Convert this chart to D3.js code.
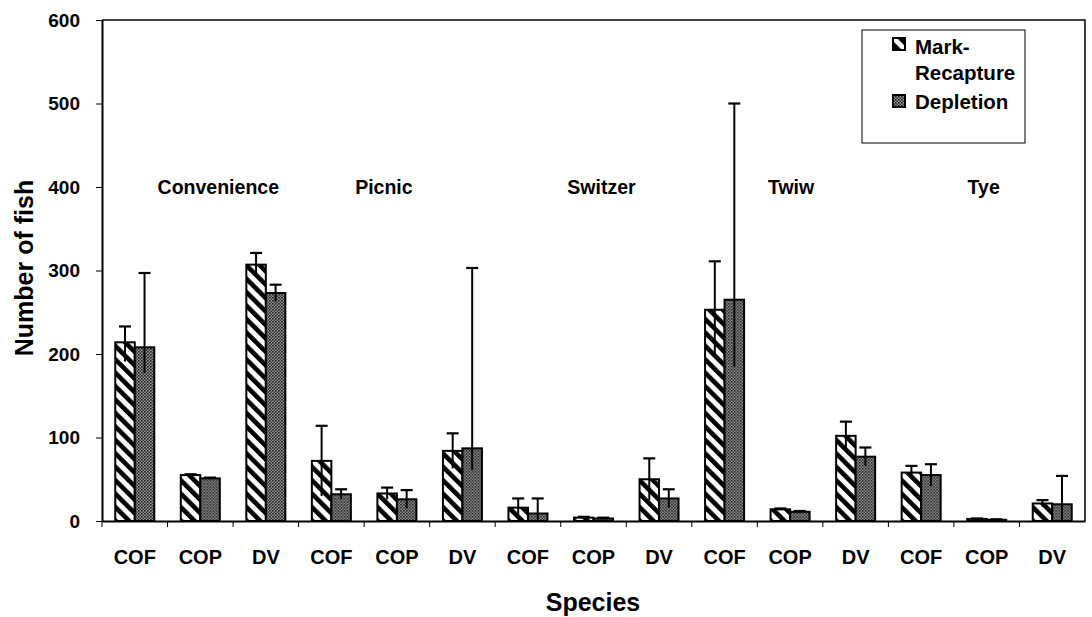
<!DOCTYPE html>
<html>
<head>
<meta charset="utf-8">
<script src="https://cdn.jsdelivr.net/npm/d3@7"></script>
<style>
	body { margin: 0; background: #fff; }
	svg text { font-family: "Liberation Sans", Arial, sans-serif; font-weight: bold; fill: #000; }
</style>
</head>
<body>
<div id="chart"></div>
<script>
// --------- Data --------- //
var sites = ["Convenience", "Picnic", "Switzer", "Twiw", "Tye"];
var species = ["COF", "COP", "DV"];
var yTicks = [0, 100, 200, 300, 400, 500, 600];

// one value per site x species, in order
var markRecapture      = [214, 55, 307,  72, 33, 84,  16, 4, 50,  253, 14, 102,  58, 2.5, 21];
var markRecaptureHigh  = [233, 56, 321, 114, 40, 105, 27, 5, 75,  311, 15, 119,  66, 3, 25];
var markRecaptureLow   = [191, 53, 293,  30, 26, 63,   5, 3, 25,  197, 13, 85,   50, 2, 17];
var depletion          = [208, 51, 273,  32, 26, 87,   9, 3, 27,  265, 11, 77,   55, 1.5, 20];
var depletionHigh      = [297, 52, 283,  38, 37, 303, 27, 4, 38,  500, 12, 88,   68, 2, 54];
var depletionLow       = [177, 50, 263,  26, 15, 61,   0, 2, 16,  185, 10, 66,   42, 1, 0];
// --------- /Data --------- //

var W = 1092, H = 617;
var margin = {left: 102, right: 7, top: 20, bottom: 96};
var siteLabelDx = [18, -13, 8, 1, -3]; // small nudges of the site names, as in the original

var svg = d3.select("#chart").append("svg").attr("width", W).attr("height", H);

// --------- Patterns --------- //
var defs = svg.append("defs");
var hatch = defs.append("pattern").attr("id", "hatch")
	.attr("patternUnits", "userSpaceOnUse").attr("width", 9.5).attr("height", 9.5)
	.attr("patternTransform", "rotate(-45)");
hatch.append("rect").attr("width", 9.5).attr("height", 9.5).attr("fill", "#fff");
hatch.append("rect").attr("width", 4.6).attr("height", 9.5).attr("fill", "#000");

var dots = defs.append("pattern").attr("id", "dots")
	.attr("patternUnits", "userSpaceOnUse").attr("width", 3).attr("height", 3);
dots.append("rect").attr("width", 3).attr("height", 3).attr("fill", "#9a9a9a");
dots.append("rect").attr("width", 1.6).attr("height", 1.6).attr("fill", "#1a1a1a");
dots.append("rect").attr("x", 1.5).attr("y", 1.5).attr("width", 1.5).attr("height", 1.5).attr("fill", "#333");
// --------- /Patterns --------- //

// build rows
var rows = [];
sites.forEach(function(site, si){
	species.forEach(function(sp, pi){
		var i = si * species.length + pi;
		rows.push({key: site + "-" + sp, site: site, species: sp,
			values: [
				{series: "mr", v: markRecapture[i], hi: markRecaptureHigh[i], lo: markRecaptureLow[i]},
				{series: "dep", v: depletion[i], hi: depletionHigh[i], lo: depletionLow[i]}
			]});
	});
});

var x0 = d3.scaleBand().domain(rows.map(function(r){ return r.key; }))
	.range([margin.left, W - margin.right]).padding(0);
var x1 = d3.scaleBand().domain(["mr", "dep"])
	.range([0, x0.bandwidth()]).paddingInner(0).paddingOuter(0.68);
var y = d3.scaleLinear().domain([0, 600]).range([H - margin.bottom, margin.top]);

var plotRight = W - margin.right;
var plotBottom = H - margin.bottom;

// frame: top and right borders
svg.append("path")
	.attr("d", "M" + margin.left + "," + margin.top + "H" + plotRight + "V" + plotBottom)
	.attr("fill", "none").attr("stroke", "#000").attr("stroke-width", 1.5);

// --------- Bars --------- //
var groups = svg.selectAll("g.grp").data(rows).enter().append("g")
	.attr("class", "grp")
	.attr("transform", function(d){ return "translate(" + x0(d.key) + ",0)"; });

groups.selectAll("rect").data(function(d){ return d.values; }).enter().append("rect")
	.attr("x", function(d){ return x1(d.series); })
	.attr("y", function(d){ return y(d.v); })
	.attr("width", x1.bandwidth())
	.attr("height", function(d){ return y(0) - y(d.v); })
	.attr("fill", function(d){ return d.series === "mr" ? "url(#hatch)" : "url(#dots)"; })
	.attr("stroke", "#000").attr("stroke-width", 2);

// error bars
var err = groups.selectAll("g.err").data(function(d){ return d.values; }).enter().append("g").attr("class", "err");
err.append("line")
	.attr("x1", function(d){ return x1(d.series) + x1.bandwidth() / 2; })
	.attr("x2", function(d){ return x1(d.series) + x1.bandwidth() / 2; })
	.attr("y1", function(d){ return y(d.lo); })
	.attr("y2", function(d){ return y(d.hi); })
	.attr("stroke", "#000").attr("stroke-width", 2);
err.append("line")
	.attr("x1", function(d){ return x1(d.series) + x1.bandwidth() / 2 - 6; })
	.attr("x2", function(d){ return x1(d.series) + x1.bandwidth() / 2 + 6; })
	.attr("y1", function(d){ return y(d.hi); })
	.attr("y2", function(d){ return y(d.hi); })
	.attr("stroke", "#000").attr("stroke-width", 2.2);
// --------- /Bars --------- //

// --------- Axes --------- //
var yAxis = svg.append("g").attr("transform", "translate(" + margin.left + ",0)")
	.call(d3.axisLeft(y).tickValues(yTicks).tickSize(6).tickSizeOuter(0).tickPadding(16));
yAxis.select(".domain").attr("stroke-width", 2);
yAxis.selectAll("text").style("font-size", "19px");

var xAxis = svg.append("g").attr("transform", "translate(0," + plotBottom + ")")
	.call(d3.axisBottom(x0).tickSize(0).tickSizeOuter(0).tickPadding(29)
		.tickFormat(function(k){ return k.split("-")[1]; }));
xAxis.select(".domain").attr("stroke-width", 2);
xAxis.selectAll("text").style("font-size", "20px");

// boundary ticks between categories
svg.append("g").selectAll("line").data(rows).enter().append("line")
	.attr("x1", function(d){ return x0(d.key); })
	.attr("x2", function(d){ return x0(d.key); })
	.attr("y1", plotBottom).attr("y2", plotBottom + 6)
	.attr("stroke", "#000").attr("stroke-width", 1);

svg.append("text")
	.attr("transform", "translate(33," + 268 + ") rotate(-90)")
	.attr("text-anchor", "middle").style("font-size", "25px")
	.text("Number of fish");

svg.append("text")
	.attr("x", 593).attr("y", 611)
	.attr("text-anchor", "middle").style("font-size", "25px")
	.text("Species");
// --------- /Axes --------- //

// site names over each group of three
svg.append("g").selectAll("text").data(sites).enter().append("text")
	.attr("x", function(s, i){
		var a = x0(s + "-" + species[0]);
		var b = x0(s + "-" + species[species.length - 1]) + x0.bandwidth();
		return (a + b) / 2 + siteLabelDx[i];
	})
	.attr("y", y(400) + 7)
	.attr("text-anchor", "middle").style("font-size", "19.5px")
	.text(function(s){ return s; });

// --------- Legend --------- //
var lg = svg.append("g").attr("transform", "translate(862,30)");
lg.append("rect").attr("width", 163).attr("height", 113)
	.attr("fill", "#fff").attr("stroke", "#000").attr("stroke-width", 1);
lg.append("rect").attr("x", 31).attr("y", 8).attr("width", 12).attr("height", 12)
	.attr("fill", "url(#hatch)").attr("stroke", "#000").attr("stroke-width", 2);
lg.append("rect").attr("x", 31).attr("y", 65).attr("width", 12).attr("height", 12)
	.attr("fill", "url(#dots)").attr("stroke", "#000").attr("stroke-width", 2);
lg.append("text").attr("x", 53).attr("y", 24).style("font-size", "20.5px").text("Mark-");
lg.append("text").attr("x", 53).attr("y", 50).style("font-size", "20.5px").text("Recapture");
lg.append("text").attr("x", 53).attr("y", 79).style("font-size", "20.5px").text("Depletion");
// --------- /Legend --------- //
</script>
</body>
</html>
